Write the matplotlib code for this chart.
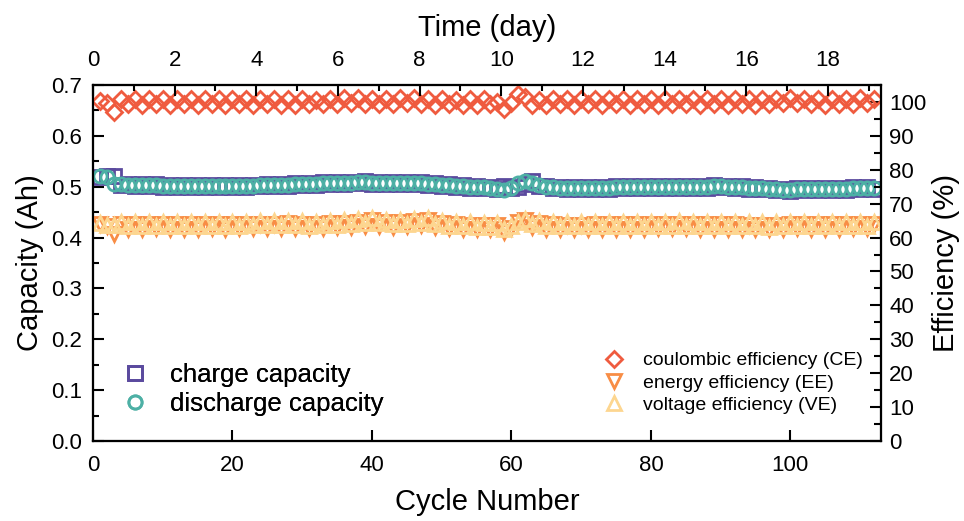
import numpy as np
import matplotlib
matplotlib.use("Agg")
import matplotlib.pyplot as plt
from matplotlib.ticker import MultipleLocator, FormatStrFormatter

plt.rcParams['font.family'] = ['Liberation Sans', 'DejaVu Sans']

# ---------------- data ----------------
discharge_capacity = [
    0.521, 0.520, 0.506, 0.505, 0.504, 0.504, 0.503, 0.503, 0.503, 0.502,
    0.502, 0.502, 0.501, 0.501, 0.501, 0.501, 0.501, 0.501, 0.501, 0.501,
    0.502, 0.502, 0.502, 0.503, 0.503, 0.503, 0.504, 0.504, 0.505, 0.505,
    0.506, 0.506, 0.507, 0.507, 0.508, 0.508, 0.508, 0.509, 0.509, 0.508,
    0.508, 0.507, 0.507, 0.507, 0.507, 0.508, 0.507, 0.506, 0.505, 0.504,
    0.503, 0.502, 0.501, 0.500, 0.500, 0.499, 0.498, 0.496, 0.494, 0.497,
    0.508, 0.512, 0.508, 0.503, 0.500, 0.499, 0.498, 0.497, 0.497, 0.497,
    0.497, 0.498, 0.498, 0.498, 0.499, 0.499, 0.499, 0.500, 0.500, 0.500,
    0.500, 0.500, 0.500, 0.500, 0.500, 0.500, 0.500, 0.500, 0.501, 0.501,
    0.500, 0.500, 0.499, 0.498, 0.498, 0.497, 0.496, 0.495, 0.494, 0.494,
    0.495, 0.496, 0.496, 0.496, 0.495, 0.495, 0.496, 0.496, 0.497, 0.497,
    0.497, 0.498]

charge_capacity = [
    0.520, 0.521, 0.521, 0.503, 0.506, 0.502, 0.505, 0.501, 0.505, 0.500,
    0.504, 0.500, 0.503, 0.499, 0.503, 0.499, 0.503, 0.499, 0.503, 0.499,
    0.504, 0.500, 0.504, 0.501, 0.505, 0.501, 0.506, 0.502, 0.507, 0.503,
    0.508, 0.504, 0.509, 0.505, 0.510, 0.506, 0.510, 0.507, 0.511, 0.506,
    0.510, 0.505, 0.509, 0.505, 0.509, 0.506, 0.509, 0.504, 0.507, 0.502,
    0.505, 0.500, 0.503, 0.498, 0.502, 0.497, 0.500, 0.496, 0.501, 0.498,
    0.499, 0.506, 0.511, 0.501, 0.502, 0.497, 0.500, 0.495, 0.499, 0.495,
    0.499, 0.496, 0.500, 0.496, 0.501, 0.497, 0.501, 0.498, 0.502, 0.498,
    0.502, 0.498, 0.502, 0.498, 0.502, 0.498, 0.502, 0.498, 0.503, 0.499,
    0.502, 0.498, 0.501, 0.496, 0.500, 0.495, 0.498, 0.493, 0.496, 0.491,
    0.497, 0.494, 0.498, 0.494, 0.497, 0.493, 0.498, 0.494, 0.499, 0.495,
    0.499, 0.496]

coulombic_eff = [
    100.3, 99.6, 97.0, 100.8, 99.3, 100.9, 99.2, 100.8, 99.3, 100.8,
    99.2, 100.9, 99.3, 100.8, 99.2, 100.8, 99.3, 100.9, 99.2, 100.8,
    99.3, 100.8, 99.2, 100.9, 99.3, 100.8, 99.1, 100.8, 99.2, 100.9,
    99.4, 100.7, 99.5, 101.0, 99.4, 101.2, 99.6, 101.1, 99.5, 100.9,
    99.3, 101.0, 99.4, 101.1, 99.6, 101.3, 99.5, 100.9, 99.2, 100.8,
    99.3, 100.7, 99.1, 100.8, 99.2, 100.9, 99.4, 99.9, 97.8, 99.6,
    102.3, 101.5, 99.0, 100.6, 99.2, 100.9, 99.3, 100.8, 99.2, 100.9,
    99.3, 100.8, 99.2, 100.8, 99.3, 100.9, 99.2, 100.8, 99.3, 100.8,
    99.2, 100.9, 99.4, 101.0, 99.3, 100.8, 99.2, 100.9, 99.3, 100.8,
    99.2, 100.8, 99.3, 100.9, 99.2, 100.8, 99.3, 100.9, 99.6, 101.3,
    99.8, 101.0, 99.3, 100.8, 99.2, 100.9, 99.3, 100.8, 99.5, 101.2,
    99.6, 101.0]

energy_eff = [
    64.0, 63.3, 61.0, 63.9, 62.6, 64.0, 62.6, 63.9, 62.7, 63.9,
    62.6, 64.0, 62.6, 63.9, 62.6, 63.9, 62.7, 64.0, 62.6, 63.9,
    62.7, 64.0, 62.8, 64.1, 62.8, 64.1, 62.9, 64.2, 62.8, 64.1,
    62.8, 64.0, 62.9, 64.2, 63.0, 64.4, 63.2, 64.7, 63.5, 65.1,
    63.4, 64.6, 63.1, 64.5, 63.3, 64.8, 63.6, 65.1, 63.1, 64.2,
    62.7, 63.9, 62.5, 63.8, 62.4, 63.7, 62.4, 63.6, 61.6, 62.8,
    64.7, 65.2, 63.0, 64.2, 62.6, 63.9, 62.5, 63.8, 62.5, 63.8,
    62.5, 63.9, 62.6, 63.9, 62.6, 64.0, 62.6, 63.9, 62.6, 64.0,
    62.7, 64.0, 62.7, 64.1, 62.7, 64.0, 62.6, 63.9, 62.6, 64.0,
    62.6, 63.9, 62.5, 63.8, 62.5, 63.8, 62.4, 63.8, 62.6, 64.0,
    62.8, 64.0, 62.6, 64.0, 62.6, 63.9, 62.6, 64.0, 62.7, 64.1,
    62.8, 64.0]

voltage_eff = [
    64.2, 63.6, 63.8, 64.6, 63.4, 64.7, 63.4, 64.6, 63.5, 64.6,
    63.4, 64.7, 63.4, 64.6, 63.4, 64.6, 63.5, 64.7, 63.4, 64.6,
    63.5, 64.7, 63.6, 64.8, 63.6, 64.8, 63.7, 64.9, 63.6, 64.8,
    63.5, 64.7, 63.6, 64.9, 63.8, 65.1, 64.0, 65.4, 64.3, 65.8,
    64.2, 65.3, 63.9, 65.2, 64.1, 65.5, 64.4, 65.8, 63.9, 64.9,
    63.5, 64.6, 63.3, 64.5, 63.2, 64.4, 63.2, 64.3, 62.6, 63.4,
    64.6, 65.6, 64.0, 64.9, 63.4, 64.6, 63.3, 64.5, 63.3, 64.5,
    63.3, 64.6, 63.4, 64.6, 63.4, 64.7, 63.4, 64.6, 63.4, 64.7,
    63.5, 64.7, 63.5, 64.8, 63.5, 64.7, 63.4, 64.6, 63.4, 64.7,
    63.4, 64.6, 63.3, 64.5, 63.3, 64.5, 63.2, 64.5, 63.3, 64.6,
    63.4, 64.6, 63.4, 64.7, 63.4, 64.6, 63.4, 64.7, 63.5, 64.7,
    63.5, 64.7]

cycles = np.arange(1, len(discharge_capacity) + 1)
cycle_limit = 113
day_limit = 19.3

# ---------------- styling ----------------
c_charge = '#5B4A9E'
c_discharge = '#4DB0A5'
c_ce = '#EF5B3F'
c_ee = '#F88D45'
c_ve = '#FDD690'

fig = plt.figure(figsize=(9.64, 5.21), dpi=100)
ax = fig.add_axes([93/964, 1-441/521, (881-93)/964, (441-85)/521])
ax2 = ax.twinx()
ax3 = ax.twiny()

mew = 2.0
ms = 9.5
ax.plot(cycles, charge_capacity, ls='none', marker='s', ms=ms, mfc='none',
        mec=c_charge, mew=mew, label='charge capacity', zorder=3)
ax.plot(cycles, discharge_capacity, ls='none', marker='o', ms=ms, mfc='none',
        mec=c_discharge, mew=mew, label='discharge capacity', zorder=4)

ax2.plot(cycles, coulombic_eff, ls='none', marker='D', ms=8.5, mfc='none',
         mec=c_ce, mew=mew, label='coulombic efficiency (CE)', zorder=3)
ax2.plot(cycles, energy_eff, ls='none', marker='v', ms=ms, mfc='none',
         mec=c_ee, mew=mew, label='energy efficiency (EE)', zorder=3)
ax2.plot(cycles, voltage_eff, ls='none', marker='^', ms=ms, mfc='none',
         mec=c_ve, mew=mew, label='voltage efficiency (VE)', zorder=4)

ax.set_xlim(0, cycle_limit)
ax.set_ylim(0, 0.7)
ax2.set_ylim(0, 105)
ax3.set_xlim(0, day_limit)

tick_fs = 16
lab_fs = 21

ax.xaxis.set_major_locator(MultipleLocator(20))
ax.yaxis.set_major_locator(MultipleLocator(0.1))
ax.yaxis.set_minor_locator(MultipleLocator(0.05))
ax.yaxis.set_major_formatter(FormatStrFormatter('%.1f'))
ax2.yaxis.set_major_locator(MultipleLocator(10))
ax2.yaxis.set_minor_locator(MultipleLocator(5))
ax3.xaxis.set_major_locator(MultipleLocator(2))
ax3.xaxis.set_minor_locator(MultipleLocator(1))

for a in (ax, ax2, ax3):
    for s in a.spines.values():
        s.set_linewidth(1.5)
ax.tick_params(axis='both', which='both', direction='in', labelsize=tick_fs,
               width=1.5, top=False, right=False)
ax.tick_params(axis='x', which='both', pad=10)
ax.tick_params(axis='y', which='both', pad=8)
ax.tick_params(which='major', length=8)
ax.tick_params(which='minor', length=4)
ax2.tick_params(axis='y', which='both', direction='in', labelsize=tick_fs,
                width=1.5, pad=6)
ax2.tick_params(which='major', length=8)
ax2.tick_params(which='minor', length=5)
ax3.tick_params(axis='x', which='both', direction='in', labelsize=tick_fs,
                width=1.5, pad=10)
ax3.tick_params(which='major', length=8)
ax3.tick_params(which='minor', length=4)

ax.set_xlabel('Cycle Number', fontsize=lab_fs, labelpad=9)
ax.set_ylabel('Capacity (Ah)', fontsize=lab_fs, labelpad=5)
ax2.set_ylabel('Efficiency (%)', fontsize=lab_fs, labelpad=4)
ax3.set_xlabel('Time (day)', fontsize=lab_fs, labelpad=10)

leg1 = ax.legend(loc='upper left', bbox_to_anchor=(0.0, 0.285), frameon=False,
                 fontsize=18.5, handletextpad=0.6, labelspacing=0.2,
                 handlelength=1.5)
ax.add_artist(leg1)
leg2 = ax2.legend(loc='upper left', bbox_to_anchor=(0.621, 0.30), frameon=False,
                  fontsize=14, handletextpad=0.7, labelspacing=0.25,
                  handlelength=1.5)

fig.savefig('out.png', dpi=100)
